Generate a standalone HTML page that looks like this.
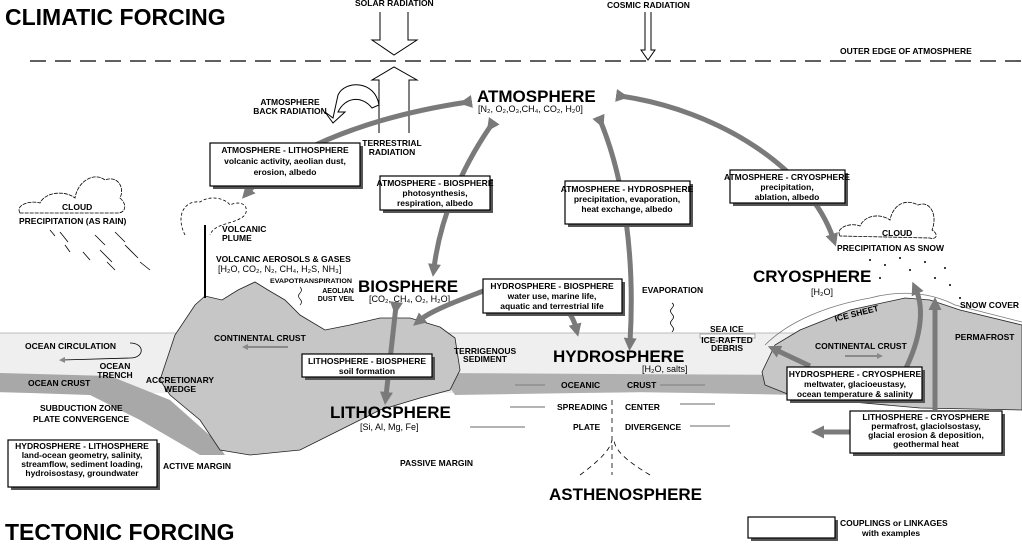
<!DOCTYPE html>
<html><head><meta charset="utf-8"><style>
html,body{margin:0;padding:0;background:#fff;}
svg{display:block;font-family:"Liberation Sans",Arial,sans-serif;font-weight:bold;}
.s{font-size:8.5px;}
.b{font-size:17px;}
.n{font-size:9px;font-weight:normal;}
</style></head><body>
<svg width="1022" height="544" viewBox="0 0 1022 544" xmlns="http://www.w3.org/2000/svg">
<defs>
<marker id="ah" markerWidth="13" markerHeight="13" refX="4" refY="6.5" orient="auto" markerUnits="userSpaceOnUse"><path d="M0,0 L13,6.5 L0,13 z" fill="#7a7a7a"/></marker>
<marker id="sa" markerWidth="6" markerHeight="6" refX="3" refY="3" orient="auto" markerUnits="userSpaceOnUse"><path d="M0,0 L6,3 L0,6 z" fill="#888"/></marker>
</defs>
<text x="5" y="25" font-size="23">CLIMATIC FORCING</text>
<text x="5" y="540" font-size="23">TECTONIC FORCING</text>
<line x1="30" y1="61" x2="1022" y2="61" stroke="#000" stroke-width="1.3" stroke-dasharray="16,9"/>
<text x="840" y="54" class="s">OUTER EDGE OF ATMOSPHERE</text>
<line x1="170" y1="482" x2="1022" y2="482" stroke="#000" stroke-width="1" stroke-dasharray="10,6"/>
<text x="355" y="6" class="s">SOLAR RADIATION</text>
<path d="M380,12 V40 H372 L394,55 L417,40 H408 V12" fill="#fff" stroke="#000"/>
<text x="607" y="8" class="s">COSMIC RADIATION</text>
<path d="M645,12 V50 H641 L648,60 L655,50 H651 V12" fill="#fff" stroke="#000"/>
<path d="M379,133 V80 H372 L394,67 L417,80 H409 V133" fill="#fff" stroke="#000"/>
<text class="s" text-anchor="middle" y="146"><tspan x="392">TERRESTRIAL</tspan><tspan x="392" dy="9">RADIATION</tspan></text>
<path d="M379,105 C375,80 345,80 338,95 L333,118 L325,112 L333,123 L345,112 L338,112 C345,97 362,95 372,108 Z" fill="#fff" stroke="#000"/>
<text y="105" class="s" text-anchor="middle"><tspan x="290">ATMOSPHERE</tspan><tspan x="290" dy="9">BACK RADIATION</tspan></text>
<rect x="0" y="333" width="1022" height="60" fill="#efefef"/>
<line x1="0" y1="333" x2="1022" y2="333" stroke="#aaa" stroke-width="0.7"/>
<rect x="0" y="393" width="1022" height="100" fill="#fff"/>
<path d="M0,373 L110,376 L170,400 L215,440 L225,455 L200,455 L140,420 L90,395 L0,392 Z" fill="#a8a8a8"/>
<path d="M440,373 L800,375 L800,395 L640,392 L455,395 Z" fill="#b0b0b0"/>
<path d="M160,380 L175,335 L195,305 L205,296 L222,300 L238,290 L255,282 L268,290 L285,300 L300,315 L325,330 L350,325 L380,318 L410,318 L440,327 L455,338 L460,370 L450,390 L420,398 L380,410 L340,430 L300,450 L250,455 L220,450 L200,420 L170,395 Z" fill="#c6c6c6" stroke="#222" stroke-width="0.8"/>
<path d="M762,372 L775,345 L800,330 L850,310 L905,298 L930,300 L960,310 L1022,325 L1022,410 L920,408 L830,400 L790,395 L765,385 Z" fill="#c6c6c6" stroke="#222" stroke-width="0.8"/>
<path d="M765,345 C790,320 830,305 870,298 C900,290 930,292 955,305 L1022,322" fill="none" stroke="#777" stroke-width="0.8"/>
<rect x="700" y="334" width="55" height="4" fill="#fff" stroke="#777" stroke-width="0.6"/>
<text x="25" y="349" class="s">OCEAN CIRCULATION</text>
<path d="M130,343 C145,343 145,358 130,358 L62,360" fill="none" stroke="#000" stroke-width="0.8" marker-end="url(#sa)"/>
<text y="369" class="s" text-anchor="middle"><tspan x="115">OCEAN</tspan><tspan x="115" dy="9">TRENCH</tspan></text>
<text x="28" y="386" class="s">OCEAN CRUST</text>
<text x="40" y="411" class="s">SUBDUCTION ZONE</text>
<text x="33" y="422" class="s">PLATE CONVERGENCE</text>
<text y="383" class="s" text-anchor="middle"><tspan x="180">ACCRETIONARY</tspan><tspan x="180" dy="9">WEDGE</tspan></text>
<text x="163" y="469" class="s">ACTIVE MARGIN</text>
<text x="400" y="466" class="s">PASSIVE MARGIN</text>
<text x="214" y="341" class="s">CONTINENTAL CRUST</text>
<line x1="288" y1="347" x2="245" y2="347" stroke="#777" stroke-width="1.5" marker-end="url(#sa)"/>
<text y="354" class="s" text-anchor="middle"><tspan x="485">TERRIGENOUS</tspan><tspan x="485" dy="8">SEDIMENT</tspan></text>
<text x="553" y="362" class="b">HYDROSPHERE</text>
<text x="642" y="372" class="n">[H₂O, salts]</text>
<text x="561" y="388" class="s">OCEANIC</text><text x="627" y="388" class="s">CRUST</text>
<text x="557" y="410" class="s">SPREADING</text><text x="625" y="410" class="s">CENTER</text>
<text x="573" y="430" class="s">PLATE</text><text x="625" y="430" class="s">DIVERGENCE</text>
<g stroke="#888" stroke-width="1.3">
<line x1="545" y1="385" x2="515" y2="385"/><line x1="660" y1="385" x2="705" y2="385"/>
<line x1="545" y1="407" x2="510" y2="407"/><line x1="680" y1="404" x2="715" y2="404"/>
<line x1="525" y1="427" x2="470" y2="427"/><line x1="690" y1="426" x2="730" y2="426"/>
</g>
<path d="M612,400 V475 M580,475 C600,460 610,450 612,440 M650,475 C625,460 615,450 614,440" fill="none" stroke="#000" stroke-width="0.8" stroke-dasharray="5,4"/>
<text x="549" y="500" class="b" font-size="18">ASTHENOSPHERE</text>
<text x="330" y="418" class="b">LITHOSPHERE</text>
<text x="360" y="430" class="n">[Si, Al, Mg, Fe]</text>
<text x="358" y="292" class="b">BIOSPHERE</text>
<text x="369" y="302" class="n">[CO₂, CH₄, O₂, H₂O]</text>
<text x="477" y="102" class="b" font-size="19">ATMOSPHERE</text>
<text x="478" y="112" class="n">[N₂, O₂,O₃,CH₄, CO₂, H₂0]</text>
<text x="753" y="282" class="b">CRYOSPHERE</text>
<text x="811" y="295" class="n">[H₂O]</text>
<text x="642" y="293" class="s">EVAPORATION</text>
<path d="M672,332 q3,-3 0,-6 q-3,-3 0,-6 q3,-3 0,-6 q-3,-3 0,-6 q3,-3 0,-5" fill="none" stroke="#000" stroke-width="0.8"/>
<text x="710" y="332" class="s">SEA ICE</text>
<text y="343" class="s" text-anchor="middle" font-size="7.5"><tspan x="727">ICE-RAFTED</tspan><tspan x="727" dy="8">DEBRIS</tspan></text>
<text x="835" y="318" class="s" transform="rotate(-14 850 318)">ICE SHEET</text>
<text x="960" y="308" class="s" font-size="7.5">SNOW COVER</text>
<text x="955" y="340" class="s">PERMAFROST</text>
<text x="815" y="349" class="s">CONTINENTAL CRUST</text>
<line x1="845" y1="356" x2="880" y2="356" stroke="#777" stroke-width="1.5" marker-end="url(#sa)"/>
<text x="270" y="283" font-size="6.5" textLength="82" lengthAdjust="spacingAndGlyphs">EVAPOTRANSPIRATION</text>
<text y="293" font-size="7" text-anchor="middle"><tspan x="338">AEOLIAN</tspan><tspan x="336" dy="8">DUST VEIL</tspan></text>
<path d="M300,305 q3,-3 0,-6 q-3,-3 0,-6 q3,-3 0,-6" fill="none" stroke="#000" stroke-width="0.7"/>
<text x="222" y="232" class="s"><tspan x="222">VOLCANIC</tspan><tspan x="222" dy="9">PLUME</tspan></text>
<text x="216" y="262" class="s">VOLCANIC AEROSOLS &amp; GASES</text>
<text x="218" y="272" class="n">[H₂O, CO₂, N₂, CH₄, H₂S, NH₃]</text>
<path d="M20,213 C15,205 30,200 40,203 C45,192 65,190 75,198 C78,180 95,172 105,180 C118,175 125,188 120,198 C128,205 125,213 118,213 Z" fill="#fff" stroke="#000" stroke-width="0.8" stroke-dasharray="4,1"/>
<text x="62" y="210" class="s">CLOUD</text>
<text x="19" y="224" class="s">PRECIPITATION (AS RAIN)</text>
<g stroke="#000" stroke-width="0.8">
<line x1="50" y1="230" x2="55" y2="236"/><line x1="60" y1="232" x2="68" y2="242"/><line x1="65" y1="245" x2="70" y2="252"/><line x1="95" y1="235" x2="105" y2="245"/><line x1="100" y1="250" x2="112" y2="262"/><line x1="115" y1="232" x2="125" y2="242"/><line x1="125" y1="245" x2="138" y2="258"/><line x1="140" y1="262" x2="150" y2="270"/><line x1="83" y1="252" x2="90" y2="260"/><line x1="107" y1="262" x2="115" y2="270"/>
</g>
<path d="M840,236 C835,228 850,222 860,226 C865,215 880,213 890,220 C893,205 905,198 918,205 C930,200 938,215 932,230 C940,235 935,240 930,238 Z" fill="#fff" stroke="#000" stroke-width="0.8" stroke-dasharray="4,1"/>
<text x="882" y="236" class="s">CLOUD</text>
<text x="837" y="251" class="s">PRECIPITATION AS SNOW</text>
<g fill="#000"><circle cx="870" cy="260" r="1"/><circle cx="885" cy="265" r="1"/><circle cx="900" cy="258" r="1"/><circle cx="910" cy="270" r="1"/><circle cx="925" cy="262" r="1"/><circle cx="935" cy="278" r="1"/><circle cx="950" cy="285" r="1"/><circle cx="880" cy="278" r="1"/><circle cx="945" cy="268" r="1"/><circle cx="960" cy="298" r="1"/></g>
<path d="M205,298 V225" fill="none" stroke="#000" stroke-width="2"/>
<path d="M185,235 C175,215 185,200 200,202 C210,195 225,198 230,205 C240,200 250,205 245,215 C235,225 215,222 210,235" fill="none" stroke="#000" stroke-width="0.8" stroke-dasharray="3,2"/>
<g fill="none" stroke="#7a7a7a" stroke-width="5">
<path d="M468,102 C380,115 290,145 248,192" marker-end="url(#ah)" marker-start="url(#ah)"/>
<path d="M492,124 C460,170 440,220 434,268" marker-end="url(#ah)" marker-start="url(#ah)"/>
<path d="M600,120 C625,180 635,260 630,342" marker-end="url(#ah)" marker-start="url(#ah)"/>
<path d="M620,96 C720,110 810,170 833,238" marker-end="url(#ah)" marker-start="url(#ah)"/>
<path d="M486,290 C460,300 432,310 420,320" marker-end="url(#ah)"/>
<path d="M562,306 C570,312 574,320 576,328" marker-end="url(#ah)"/>
<path d="M396,306 L386,396" marker-end="url(#ah)" marker-start="url(#ah)"/>
<path d="M810,366 L776,350" marker-end="url(#ah)"/>
<path d="M905,370 C920,340 925,310 916,290" marker-end="url(#ah)"/>
<path d="M935,410 L935,306" marker-end="url(#ah)"/>
<path d="M850,432 L820,432" marker-end="url(#ah)"/>
</g>
<g fill="#fff" stroke="#000" stroke-width="1.2">
<rect x="213" y="146" width="150" height="43" fill="#555" stroke="none"/><rect x="210" y="143" width="150" height="43"/>
<rect x="383" y="179" width="110" height="34" fill="#555" stroke="none"/><rect x="380" y="176" width="110" height="34"/>
<rect x="568" y="184" width="125" height="43" fill="#555" stroke="none"/><rect x="565" y="181" width="125" height="43"/>
<rect x="733" y="173" width="115" height="33" fill="#555" stroke="none"/><rect x="730" y="170" width="115" height="33"/>
<rect x="486" y="282" width="139" height="34" fill="#555" stroke="none"/><rect x="483" y="279" width="139" height="34"/>
<rect x="305" y="357" width="130" height="23" fill="#555" stroke="none"/><rect x="302" y="354" width="130" height="23"/>
<rect x="11" y="443" width="149" height="47" fill="#555" stroke="none"/><rect x="8" y="440" width="149" height="47"/>
<rect x="790" y="370" width="135" height="33" fill="#555" stroke="none"/><rect x="787" y="367" width="135" height="33"/>
<rect x="853" y="414" width="152" height="42" fill="#555" stroke="none"/><rect x="850" y="411" width="152" height="42"/>
<rect x="751" y="520" width="87" height="21" fill="#555" stroke="none"/><rect x="748" y="517" width="87" height="21"/>
</g>
<g class="s" text-anchor="middle">
<text y="153"><tspan x="285">ATMOSPHERE - LITHOSPHERE</tspan><tspan x="285" dy="11">volcanic activity, aeolian dust,</tspan><tspan x="285" dy="11">erosion, albedo</tspan></text>
<text y="186"><tspan x="435">ATMOSPHERE - BIOSPHERE</tspan><tspan x="435" dy="10">photosynthesis,</tspan><tspan x="435" dy="10">respiration, albedo</tspan></text>
<text y="192"><tspan x="627">ATMOSPHERE - HYDROSPHERE</tspan><tspan x="627" dy="10">precipitation, evaporation,</tspan><tspan x="627" dy="10">heat exchange, albedo</tspan></text>
<text y="180"><tspan x="787">ATMOSPHERE - CRYOSPHERE</tspan><tspan x="787" dy="10">precipitation,</tspan><tspan x="787" dy="10">ablation, albedo</tspan></text>
<text y="289"><tspan x="552">HYDROSPHERE - BIOSPHERE</tspan><tspan x="552" dy="10">water use, marine life,</tspan><tspan x="552" dy="10">aquatic and terrestrial life</tspan></text>
<text y="364"><tspan x="367">LITHOSPHERE - BIOSPHERE</tspan><tspan x="367" dy="10">soil formation</tspan></text>
<text y="449"><tspan x="82">HYDROSPHERE - LITHOSPHERE</tspan><tspan x="82" dy="9">land-ocean geometry, salinity,</tspan><tspan x="82" dy="9">streamflow, sediment loading,</tspan><tspan x="82" dy="9">hydroisostasy, groundwater</tspan></text>
<text y="377"><tspan x="855">HYDROSPHERE - CRYOSPHERE</tspan><tspan x="855" dy="10">meltwater, glacioeustasy,</tspan><tspan x="855" dy="10">ocean temperature &amp; salinity</tspan></text>
<text y="420"><tspan x="926">LITHOSPHERE - CRYOSPHERE</tspan><tspan x="926" dy="9">permafrost, glaciolsostasy,</tspan><tspan x="926" dy="9">glacial erosion &amp; deposition,</tspan><tspan x="926" dy="9">geothermal heat</tspan></text>
</g>
<text x="840" y="526" class="s">COUPLINGS or LINKAGES</text>
<text x="862" y="536" class="s">with examples</text>
</svg>
</body></html>
